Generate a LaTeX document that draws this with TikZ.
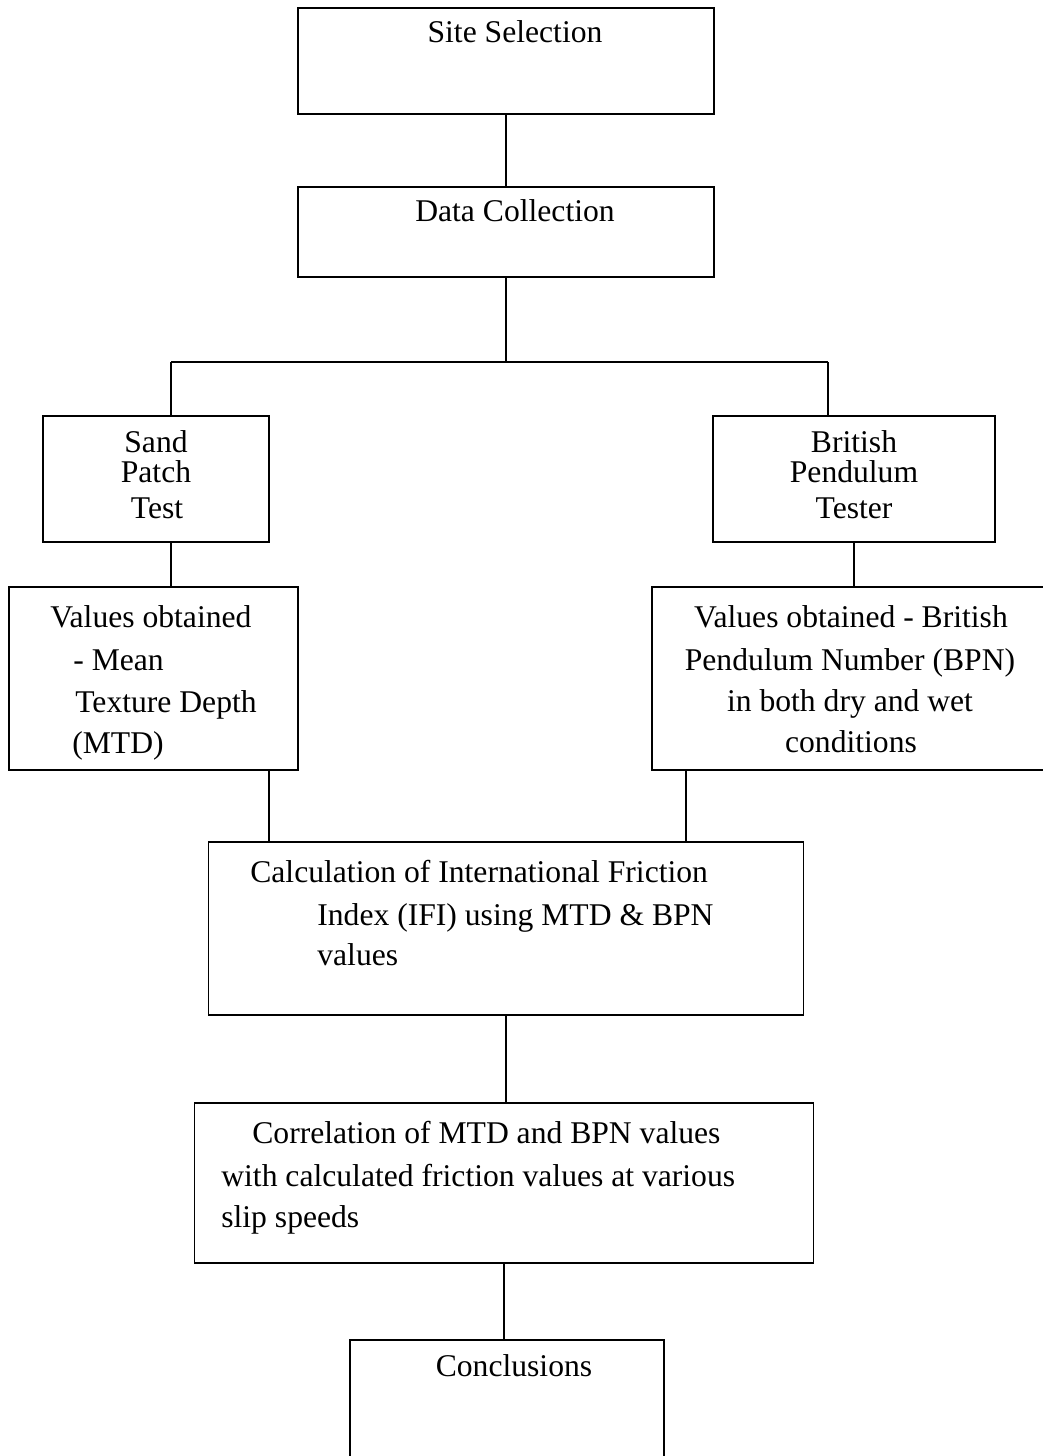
\documentclass[tikz,border=0pt]{standalone}
\usepackage{fontspec}
\setmainfont{Liberation Serif}
\tikzset{box/.style={ % Plain rectangle of one step
            draw,
            line width=0.8pt,
            inner sep=0pt},
        txt/.style={ % One line of text inside a box
            inner sep=0pt,
            font=\fontsize{18}{22}\selectfont},
        link/.style={ % Joining lines between the boxes
            draw,
            line width=0.8pt}
        }

\begin{document}
\begin{tikzpicture}[x=0.02cm, y=-0.02cm] % One unit is one pixel of the page
    \useasboundingbox (0,0) rectangle (1042,1456);

    % Boxes
    \node[box, minimum width=8.32cm, minimum height=2.12cm] (site) at (506,61) {};
    \node[box, minimum width=8.32cm, minimum height=1.8cm] (data) at (506,232) {};
    \node[box, minimum width=4.52cm, minimum height=2.52cm] (sand) at (156,479) {};
    \node[box, minimum width=5.64cm, minimum height=2.52cm] (brit) at (854,479) {};
    \node[box, minimum width=5.78cm, minimum height=3.66cm] (mtd) at (153.5,678.5) {};
    \node[box, minimum width=8.16cm, minimum height=3.66cm] (bpn) at (856,678.5) {};
    \node[box, minimum width=11.9cm, minimum height=3.46cm] (calc) at (506,928.5) {};
    \node[box, minimum width=12.38cm, minimum height=3.2cm] (corr) at (504,1183) {};
    \node[box, minimum width=6.28cm, minimum height=2.8cm] (concl) at (507,1410) {};

    % Texts
    \node[txt, anchor=base] (siteT) at (515,43) {Site Selection};
    \node[txt, anchor=base] (dataT) at (515,222) {Data Collection};
    \node[txt, anchor=base] (sandA) at (156,452) {Sand};
    \node[txt, anchor=base] (sandB) at (156,482) {Patch};
    \node[txt, anchor=base] (sandC) at (157,518) {Test};
    \node[txt, anchor=base] (britA) at (854,452) {British};
    \node[txt, anchor=base] (britB) at (854,482) {Pendulum};
    \node[txt, anchor=base] (britC) at (854,518) {Tester};
    \node[txt, anchor=base west] (mtdA) at (50,627) {Values obtained};
    \node[txt, anchor=base west] (mtdB) at (73,670) {- Mean};
    \node[txt, anchor=base west] (mtdC) at (75,712) {Texture Depth};
    \node[txt, anchor=base west] (mtdD) at (72,753) {(MTD)};
    \node[txt, anchor=base] (bpnA) at (851,627) {Values obtained - British};
    \node[txt, anchor=base] (bpnB) at (850,670) {Pendulum Number (BPN)};
    \node[txt, anchor=base] (bpnC) at (850,711) {in both dry and wet};
    \node[txt, anchor=base] (bpnD) at (851,752) {conditions};
    \node[txt, anchor=base west] (calcA) at (250,882) {Calculation of International Friction};
    \node[txt, anchor=base west] (calcB) at (317,925) {Index (IFI) using MTD \& BPN};
    \node[txt, anchor=base west] (calcC) at (317,965) {values};
    \node[txt, anchor=base west] (corrA) at (252,1143) {Correlation of MTD and BPN values};
    \node[txt, anchor=base west] (corrB) at (221,1186) {with calculated friction values at various};
    \node[txt, anchor=base west] (corrC) at (221,1227) {slip speeds};
    \node[txt, anchor=base] (conclT) at (514,1376) {Conclusions};

    % Branch points
    \coordinate (split) at (506,362);
    \coordinate (splitL) at (171,362);
    \coordinate (splitR) at (828,362);
    \coordinate (lnkL) at (269,800);
    \coordinate (lnkR) at (686,800);

    % Connectors
    \draw[link] (site.south) -- (data.north);
    \draw[link] (data.south) -- (split);
    \draw[link] (splitL) -- (splitR);
    \draw[link] (splitL) -- (splitL |- sand.north);
    \draw[link] (splitR) -- (splitR |- brit.north);
    \draw[link] (sand.south -| splitL) -- (mtd.north -| splitL);
    \draw[link] (brit.south) -- (brit.south |- bpn.north);
    \draw[link] (mtd.south -| lnkL) -- (calc.north -| lnkL);
    \draw[link] (bpn.south -| lnkR) -- (calc.north -| lnkR);
    \draw[link] (calc.south) -- (calc.south |- corr.north);
    \draw[link] (corr.south) -- (corr.south |- concl.north);
\end{tikzpicture}
\end{document}
